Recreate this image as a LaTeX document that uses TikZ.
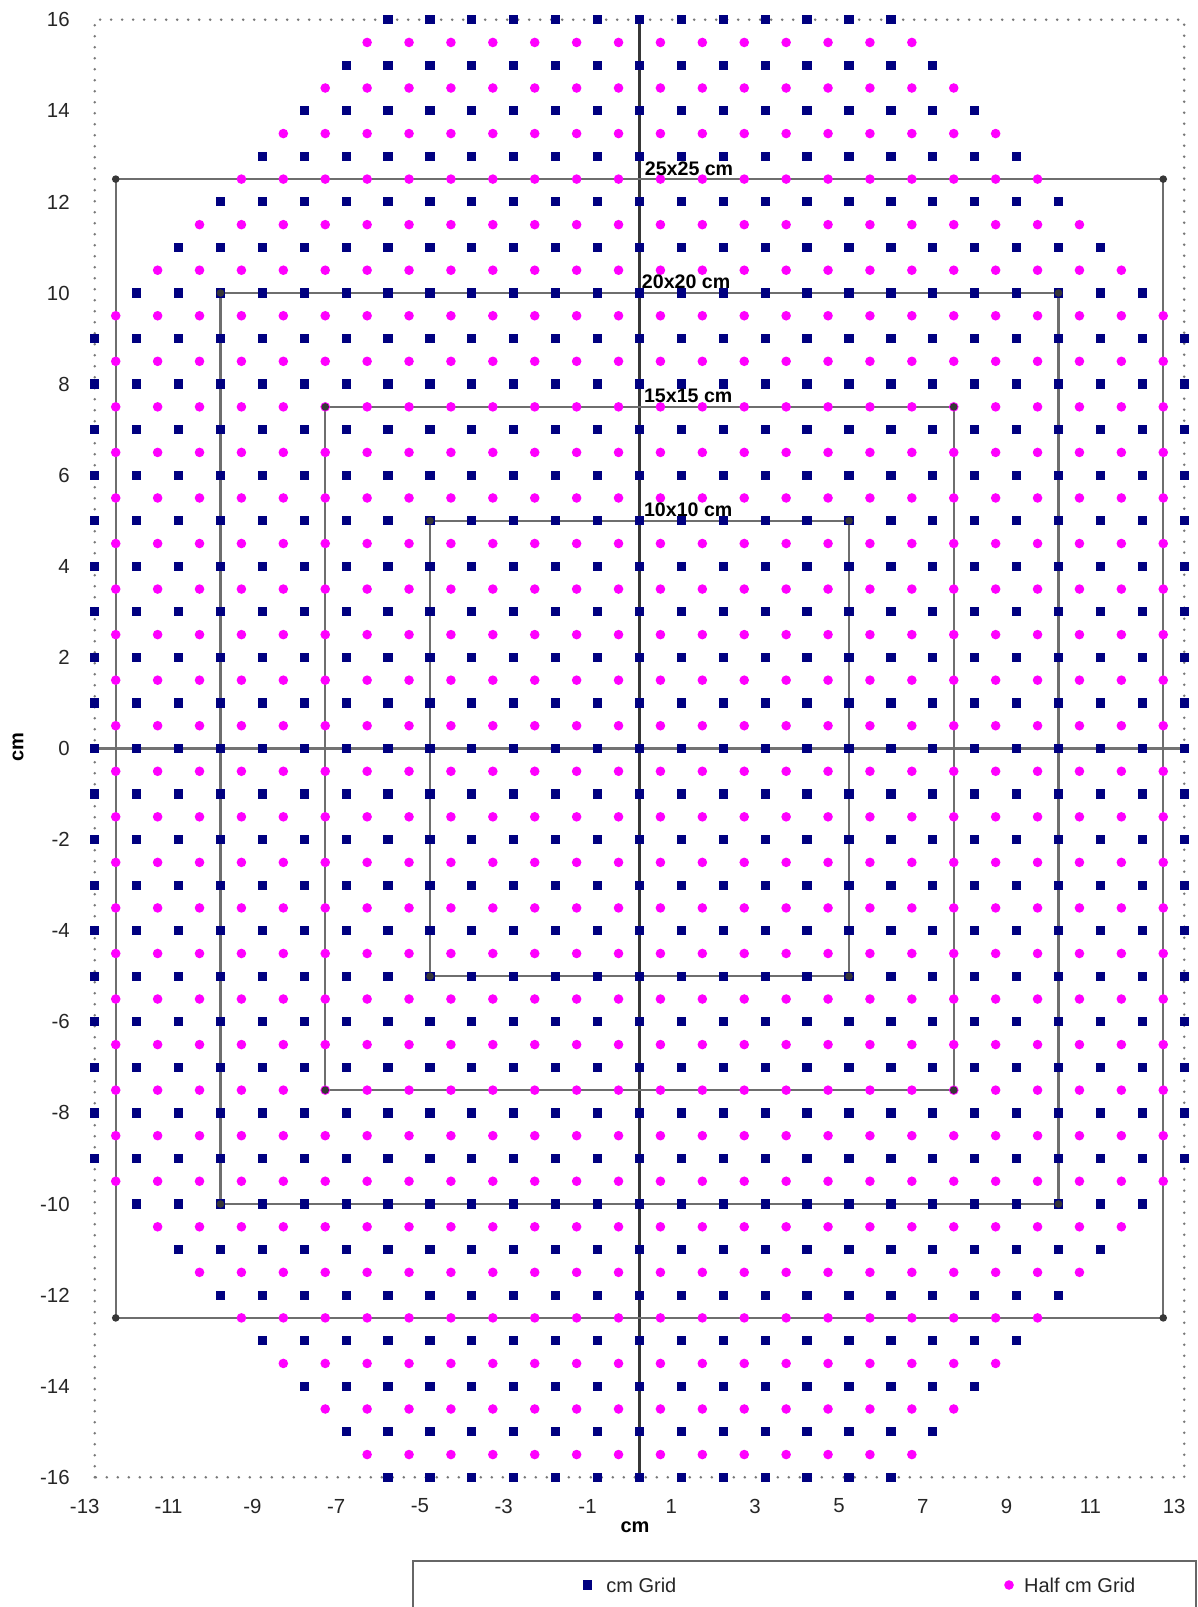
\documentclass[tikz,border=0pt]{standalone}
\usepackage{fontspec}
\setmainfont{Liberation Sans}
\definecolor{navyc}{RGB}{0,0,128}
\definecolor{magc}{RGB}{255,0,255}
\definecolor{rectc}{RGB}{110,110,110}
\definecolor{darkc}{RGB}{55,55,55}
\definecolor{dotc}{RGB}{120,120,120}
\begin{document}
\begin{tikzpicture}[x=20.95pt,y=22.775pt,
  tick/.style={font=\fontsize{10.2}{12}\selectfont, inner sep=0pt, text=black!85},
  axtitle/.style={font=\fontsize{10}{12}\selectfont\bfseries, inner sep=0pt},
  boxlabel/.style={font=\fontsize{9.8}{12}\selectfont\bfseries, inner sep=0pt, anchor=base west},
  sizebox/.style={draw=rectc, line width=1.2pt},
  cornermark/.style={fill=darkc},
  legtext/.style={font=\fontsize{10}{12}\selectfont, inner sep=0pt, anchor=west, text=black!85}]
\useasboundingbox (-15.262,-18.847) rectangle (13.329,16.432);
% plot area border (dotted)
\draw[dotc, line width=1.4pt, line cap=round, dash pattern=on 0pt off 5.5pt] (-13,-16) rectangle (13,16);
% axes
\coordinate (xa1) at (-13,0); \coordinate (xa2) at (13,0);
\coordinate (ya1) at (0,-16); \coordinate (ya2) at (0,16);
\draw[gray!90!black, line width=1.1pt] (xa1) -- (xa2);
\draw[darkc, line width=1.1pt] (ya1) -- (ya2);
% square outlines
\foreach \h in {12.5,10,7.5,5}{
  \draw[sizebox] (-\h,-\h) rectangle (\h,\h);
}
% cm grid
\foreach \i in {-13,...,13}{
  \foreach \j in {-16,...,16}{
    \pgfmathtruncatemacro{\s}{abs(\i)+abs(\j)}
    \ifnum\s<23 \fill[navyc] (\i,\j) ++(-2.3pt,-2.3pt) rectangle ++(4.6pt,4.6pt);\fi
  }
}
% half cm grid
\foreach \i in {-13,...,12}{
  \foreach \j in {-16,...,15}{
    \pgfmathtruncatemacro{\s}{abs(2*\i+1)+abs(2*\j+1)}
    \ifnum\s<45 \fill[magc] (\i+0.5,\j+0.5) circle[radius=2.4pt];\fi
  }
}
% corner markers
\foreach \h in {12.5,10,7.5,5}{
  \foreach \sx/\sy in {1/1,1/-1,-1/1,-1/-1}{
    \fill[cornermark] (\sx*\h,\sy*\h) circle[radius=1.9pt];
  }
}
% box labels
\node[boxlabel] (l25) at (0.12,12.5) [yshift=2pt] {25x25 cm};
\node[boxlabel] (l20) at (0.05,10) [yshift=2pt] {20x20 cm};
\node[boxlabel] (l15) at (0.1,7.5) [yshift=2pt] {15x15 cm};
\node[boxlabel] (l10) at (0.1,5) [yshift=2pt] {10x10 cm};
% tick labels
\foreach \v [count=\k] in {-16,-14,...,16}
  \node[tick,anchor=east] (ylab\k) at (-13.59,\v) {\v};
\foreach \v [count=\k] in {-13,-11,...,13}
  \node[tick] (xlab\k) at (\v-0.24,-16.63) {\v};
% axis titles
\node[axtitle,rotate=90] (ytitle) at (-14.833,0.03) {cm};
\node[axtitle] (xtitle) at (-0.107,-17.09) {cm};
% legend
\draw[gray!80!black, line width=1.1pt] (-5.406,-18.847) -- (-5.406,-17.837) -- (13.282,-17.837) -- (13.282,-18.847);
\fill[navyc] (-1.236,-18.364) ++(-2.3pt,-2.3pt) rectangle ++(4.6pt,4.6pt);
\node[legtext] (leg1) at (-0.8,-18.364) {cm Grid};
\fill[magc] (8.819,-18.364) circle[radius=2.4pt];
\node[legtext] (leg2) at (9.17,-18.364) {Half cm Grid};
\end{tikzpicture}
\end{document}
